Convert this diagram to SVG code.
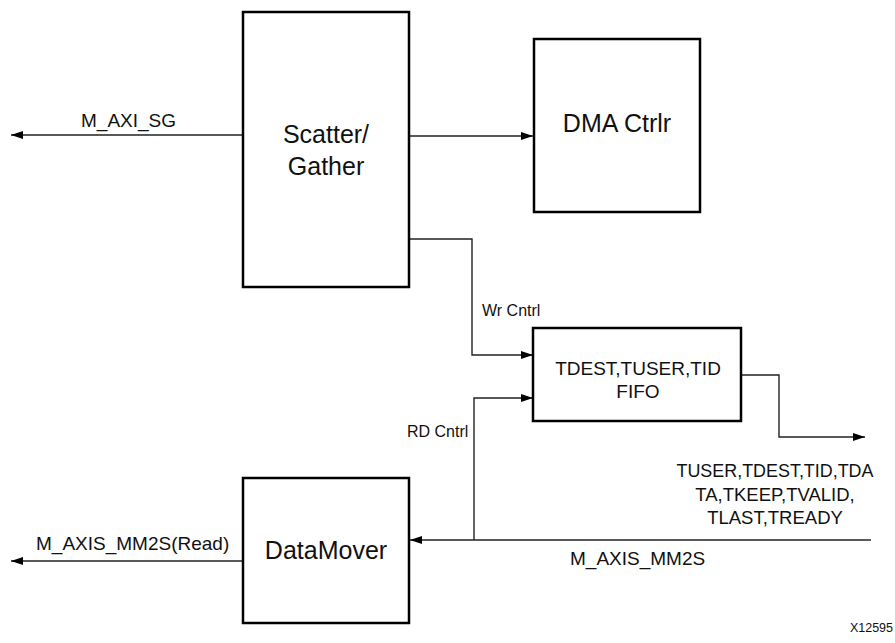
<svg xmlns="http://www.w3.org/2000/svg" width="895" height="643" viewBox="0 0 895 643">
<defs>
<marker id="arr" viewBox="0 0 12 8" refX="12" refY="4" markerWidth="12" markerHeight="8" markerUnits="userSpaceOnUse" orient="auto">
<path d="M0,0 L12,4 L0,8 z" fill="#000"/>
</marker>
<style>
.box{fill:#fff;stroke:#000;stroke-width:2.5}
.c{fill:none;stroke:#222;stroke-width:1.4;marker-end:url(#arr)}
text{font-family:"Liberation Sans",Arial,sans-serif;fill:#111}
.big{font-size:25px;text-anchor:middle}
.mid{font-size:19px}
.tl{font-size:18.5px;text-anchor:middle}
.sm{font-size:16px}
</style>
</defs>
<g id="connectors">
<path class="c" d="M243,135 H11"/>
<path class="c" d="M409,136 H533"/>
<path class="c" d="M409,239 H472 V355 H533"/>
<path class="c" d="M474,540 V398 H533"/>
<path class="c" d="M741,375 H779 V437 H865"/>
<path class="c" d="M871,540 H410"/>
<path class="c" d="M243,561 H11"/>
</g>
<g id="labels">
<text class="mid" x="81" y="127">M_AXI_SG</text>
<text class="sm" x="482" y="316">Wr Cntrl</text>
<text class="sm" x="407" y="437">RD Cntrl</text>
<text class="mid" x="36" y="550">M_AXIS_MM2S(Read)</text>
<text class="mid" x="570" y="565">M_AXIS_MM2S</text>
<text class="tl" x="775" y="477" textLength="197" lengthAdjust="spacingAndGlyphs">TUSER,TDEST,TID,TDA</text>
<text class="tl" x="775" y="501">TA,TKEEP,TVALID,</text>
<text class="tl" x="775" y="524">TLAST,TREADY</text>
<text x="893" y="632" text-anchor="end" style="font-size:12.5px">X12595</text>
</g>
<g id="scatter_gather">
<rect class="box" x="243" y="12" width="166" height="275"/>
<text class="big" x="326" y="143">Scatter/</text>
<text class="big" x="326" y="175">Gather</text>
</g>
<g id="dma_ctrlr">
<rect class="box" x="534" y="39" width="166" height="173"/>
<text class="big" x="617" y="132">DMA Ctrlr</text>
</g>
<g id="fifo">
<rect class="box" x="533" y="328" width="208" height="93"/>
<text class="mid" x="638" y="375" text-anchor="middle">TDEST,TUSER,TID</text>
<text class="mid" x="638" y="398" text-anchor="middle">FIFO</text>
</g>
<g id="datamover">
<rect class="box" x="243" y="478" width="166" height="145"/>
<text class="big" x="326" y="559">DataMover</text>
</g>
</svg>
